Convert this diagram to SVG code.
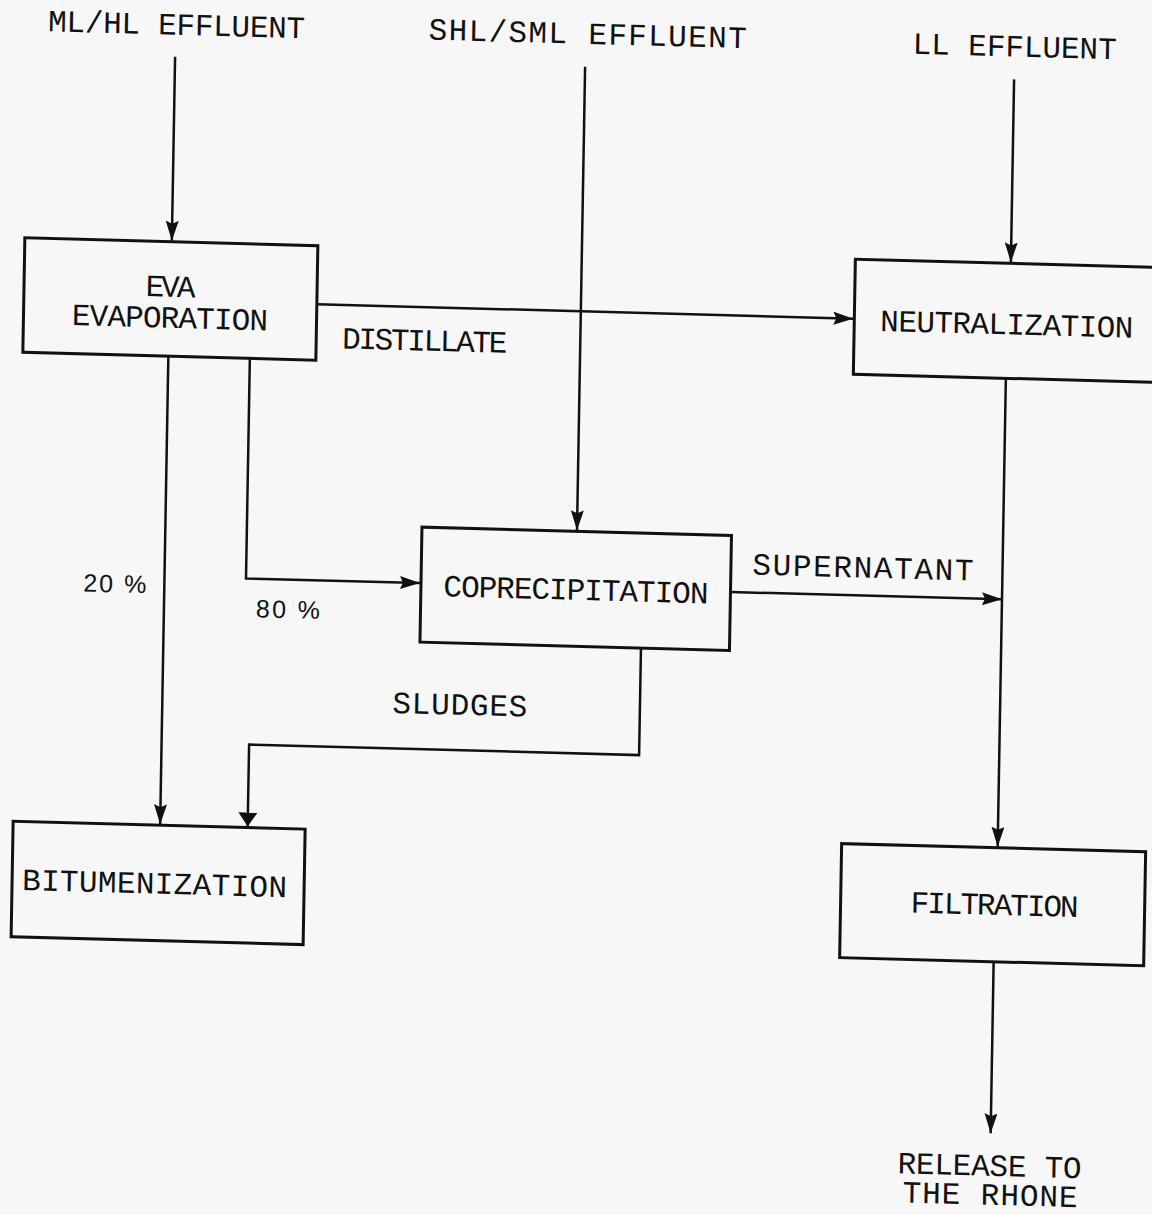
<svg xmlns="http://www.w3.org/2000/svg" width="1152" height="1215" viewBox="0 0 1152 1215">
  <style>
    .box { fill: none; stroke: #111; stroke-width: 3; }
    .con { fill: none; stroke: #111; stroke-width: 2.5; }
    .t { font-family: "Liberation Mono", "DejaVu Sans Mono", monospace; font-size: 31px; fill: #111; text-anchor: middle; }
    .p { font-family: "Liberation Sans", Arial, sans-serif; font-size: 25px; fill: #111; text-anchor: middle; }
  </style>
  <defs>
    <marker id="arr" markerUnits="userSpaceOnUse" markerWidth="22" markerHeight="14" refX="20" refY="6.5" orient="auto">
      <path d="M0,0 L20,6.5 L0,13 L3,6.5 z" fill="#111"/>
    </marker>
    <marker id="arrw" markerUnits="userSpaceOnUse" markerWidth="16" markerHeight="20" refX="14" refY="9.5" orient="auto">
      <path d="M0,0 L14,9.5 L0,19 z" fill="#111"/>
    </marker>
  </defs>
  <rect width="1152" height="1215" fill="#f6f7f6"/>
  <g transform="matrix(1 0.027 -0.0175 1 0 0)">
    <g id="labels-in">
      <text class="t" x="177" y="30" textLength="257" lengthAdjust="spacing">ML/HL EFFLUENT</text>
      <text class="t" x="588" y="28" textLength="318" lengthAdjust="spacing">SHL/SML EFFLUENT</text>
      <text class="t" x="1015" y="29" textLength="204" lengthAdjust="spacing">LL EFFLUENT</text>
    </g>
    <g id="eva">
      <rect class="box" x="29" y="237" width="293" height="114.5"/>
      <text class="t" x="175.5" y="292" textLength="50" lengthAdjust="spacing">EVA</text>
      <text class="t" x="175.5" y="323" textLength="196" lengthAdjust="spacing">EVAPORATION</text>
    </g>
    <g id="neutralization">
      <rect class="box" x="859.5" y="236" width="310" height="115"/>
      <text class="t" x="1012" y="307" textLength="253" lengthAdjust="spacing">NEUTRALIZATION</text>
    </g>
    <g id="coprecipitation">
      <rect class="box" x="431" y="515.5" width="309.5" height="115"/>
      <text class="t" x="586" y="584" textLength="265" lengthAdjust="spacing">COPRECIPITATION</text>
    </g>
    <g id="bitumenization">
      <rect class="box" x="27.5" y="820.5" width="292" height="115.5"/>
      <text class="t" x="170" y="889" textLength="265" lengthAdjust="spacing">BITUMENIZATION</text>
    </g>
    <g id="filtration">
      <rect class="box" x="856" y="820.5" width="304" height="114"/>
      <text class="t" x="1010" y="887.5" textLength="168" lengthAdjust="spacing">FILTRATION</text>
    </g>
    <g id="release">
      <text class="t" x="1009.5" y="1148.5" textLength="184" lengthAdjust="spacing">RELEASE TO</text>
      <text class="t" x="1010.5" y="1177.5" textLength="175" lengthAdjust="spacing">THE RHONE</text>
    </g>
    <g id="connectors">
      <line class="con" x1="176" y1="52" x2="176" y2="236" marker-end="url(#arr)"/>
      <line class="con" x1="586" y1="51" x2="586" y2="514.5" marker-end="url(#arr)"/>
      <line class="con" x1="1015" y1="52" x2="1015" y2="235" marker-end="url(#arr)"/>
      <line class="con" x1="322" y1="295.5" x2="858.5" y2="295.5" marker-end="url(#arr)"/>
      <line class="con" x1="174.5" y1="351.5" x2="174.5" y2="819.5" marker-end="url(#arr)"/>
      <polyline class="con" points="256,351.5 256,571.5 430,571.5" marker-end="url(#arr)"/>
      <line class="con" x1="740.5" y1="572" x2="1012" y2="572" marker-end="url(#arr)"/>
      <line class="con" x1="1012" y1="351" x2="1012" y2="819.5" marker-end="url(#arr)"/>
      <polyline class="con" points="652,630.5 652,737.5 262,737.5 262,819.5" marker-end="url(#arrw)"/>
      <line class="con" x1="1010" y1="934.5" x2="1010" y2="1106" marker-end="url(#arr)"/>
    </g>
    <g id="connector-labels">
      <text class="t" x="430.5" y="339" textLength="165" lengthAdjust="spacing">DISTILLATE</text>
      <text class="t" x="872.5" y="554" textLength="221" lengthAdjust="spacing">SUPERNATANT</text>
      <text class="t" x="472" y="702" textLength="135" lengthAdjust="spacing">SLUDGES</text>
      <text class="p" x="125" y="589" textLength="63" lengthAdjust="spacing">20 %</text>
      <text class="p" x="298.5" y="610" textLength="64" lengthAdjust="spacing">80 %</text>
    </g>
  </g>
</svg>
